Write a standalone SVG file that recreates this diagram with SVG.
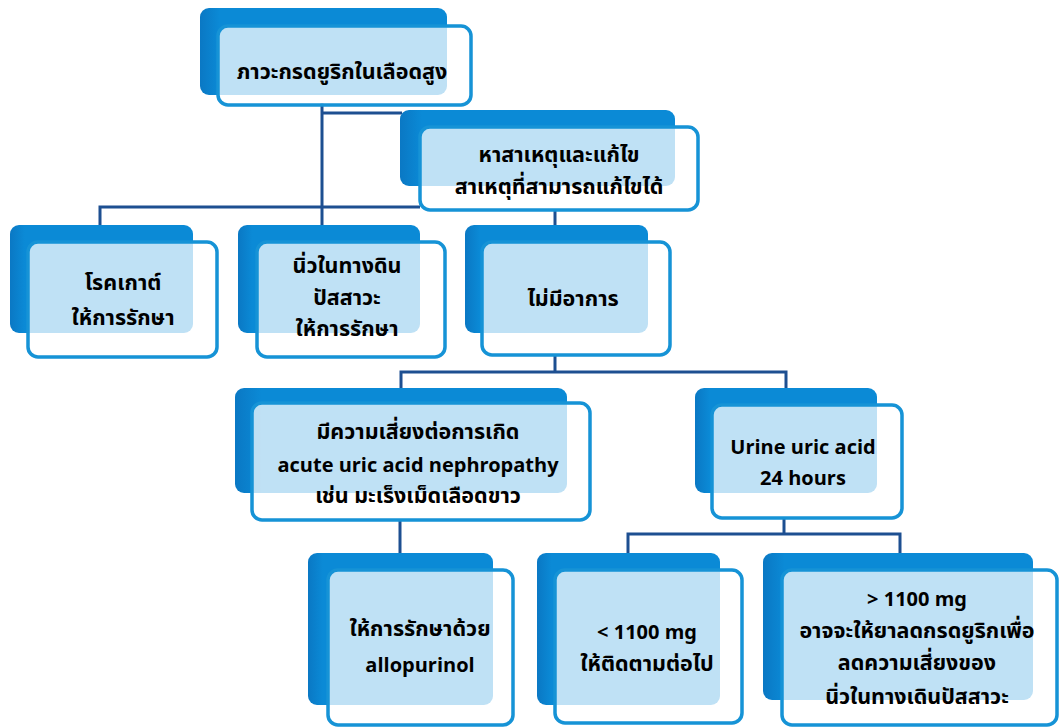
<svg xmlns="http://www.w3.org/2000/svg" width="1062" height="727" viewBox="0 0 1062 727">
<style>
.back{fill:url(#bg);}
.front{fill:#ffffff;fill-opacity:0.74;stroke:#1693d6;stroke-width:3.5;}
.t{font-family:"Noto Sans Thai","Noto Sans","DejaVu Sans",sans-serif;font-size:20px;font-weight:bold;fill:#000;text-anchor:middle;}
.th{font-size:21.5px;}
.c{fill:none;stroke:#1d4f91;stroke-width:3;}
</style>
<defs>
<linearGradient id="bg" x1="0" y1="0" x2="1" y2="0">
<stop offset="0" stop-color="#0a78c4"/>
<stop offset="0.08" stop-color="#0b8ad6"/>
<stop offset="1" stop-color="#0b8ad6"/>
</linearGradient>
</defs>
<rect width="1062" height="727" fill="#ffffff"/>
<g id="connectors">
<path class="c" d="M322,103 V225"/>
<path class="c" d="M322,113 H402"/>
<path class="c" d="M100,225 V207 H420"/>
<path class="c" d="M555,210 V226"/>
<path class="c" d="M555,355 V372"/>
<path class="c" d="M401,390 V372 H786 V390"/>
<path class="c" d="M400,520 V555"/>
<path class="c" d="M784,518 V534"/>
<path class="c" d="M628,555 V534 H900 V555"/>
</g>
<g id="n1">
<rect class="back" x="200" y="8" width="247" height="87" rx="9"/>
<rect class="front" x="218" y="26" width="253" height="79" rx="10"/>
<text class="t th" x="342" y="79">ภาวะกรดยูริกในเลือดสูง</text>
</g>
<g id="n2">
<rect class="back" x="400" y="110" width="275" height="76" rx="9"/>
<rect class="front" x="420" y="127" width="278" height="83" rx="10"/>
<text class="t th" x="559" y="162">หาสาเหตุและแก้ไข</text>
<text class="t th" x="559" y="194">สาเหตุที่สามารถแก้ไขได้</text>
</g>
<g id="n3">
<rect class="back" x="10" y="225" width="183" height="108" rx="9"/>
<rect class="front" x="28" y="242" width="189" height="115" rx="10"/>
<text class="t th" x="123" y="290">โรคเกาต์</text>
<text class="t th" x="123" y="325">ให้การรักษา</text>
</g>
<g id="n4">
<rect class="back" x="238" y="225" width="182" height="108" rx="9"/>
<rect class="front" x="257" y="242" width="188" height="115" rx="10"/>
<text class="t th" x="347" y="273">นิ่วในทางดิน</text>
<text class="t th" x="347" y="305">ปัสสาวะ</text>
<text class="t th" x="347" y="336">ให้การรักษา</text>
</g>
<g id="n5">
<rect class="back" x="465" y="225" width="183" height="108" rx="9"/>
<rect class="front" x="482" y="242" width="188" height="113" rx="10"/>
<text class="t th" x="573" y="306">ไม่มีอาการ</text>
</g>
<g id="n6">
<rect class="back" x="235" y="388" width="332" height="105" rx="9"/>
<rect class="front" x="252" y="403" width="338" height="117" rx="10"/>
<text class="t th" x="418" y="439">มีความเสี่ยงต่อการเกิด</text>
<text class="t" x="418" y="472">acute uric acid nephropathy</text>
<text class="t th" x="418" y="503">เช่น มะเร็งเม็ดเลือดขาว</text>
</g>
<g id="n7">
<rect class="back" x="695" y="388" width="182" height="105" rx="9"/>
<rect class="front" x="712" y="405" width="190" height="113" rx="10"/>
<text class="t" x="803" y="454">Urine uric acid</text>
<text class="t" x="803" y="485">24 hours</text>
</g>
<g id="n8">
<rect class="back" x="308" y="553" width="185" height="152" rx="9"/>
<rect class="front" x="328" y="570" width="185" height="155" rx="10"/>
<text class="t th" x="420" y="636">ให้การรักษาด้วย</text>
<text class="t" x="420" y="672">allopurinol</text>
</g>
<g id="n9">
<rect class="back" x="537" y="553" width="183" height="152" rx="9"/>
<rect class="front" x="555" y="570" width="187" height="153" rx="10"/>
<text class="t" x="647" y="639">&lt; 1100  mg</text>
<text class="t th" x="647" y="671">ให้ติดตามต่อไป</text>
</g>
<g id="n10">
<rect class="back" x="763" y="553" width="270" height="147" rx="9"/>
<rect class="front" x="782" y="570" width="275" height="155" rx="10"/>
<text class="t" x="917" y="606">&gt; 1100  mg</text>
<text class="t th" x="917" y="638">อาจจะให้ยาลดกรดยูริกเพื่อ</text>
<text class="t th" x="917" y="670">ลดความเสี่ยงของ</text>
<text class="t th" x="917" y="704">นิ่วในทางเดินปัสสาวะ</text>
</g>
</svg>
